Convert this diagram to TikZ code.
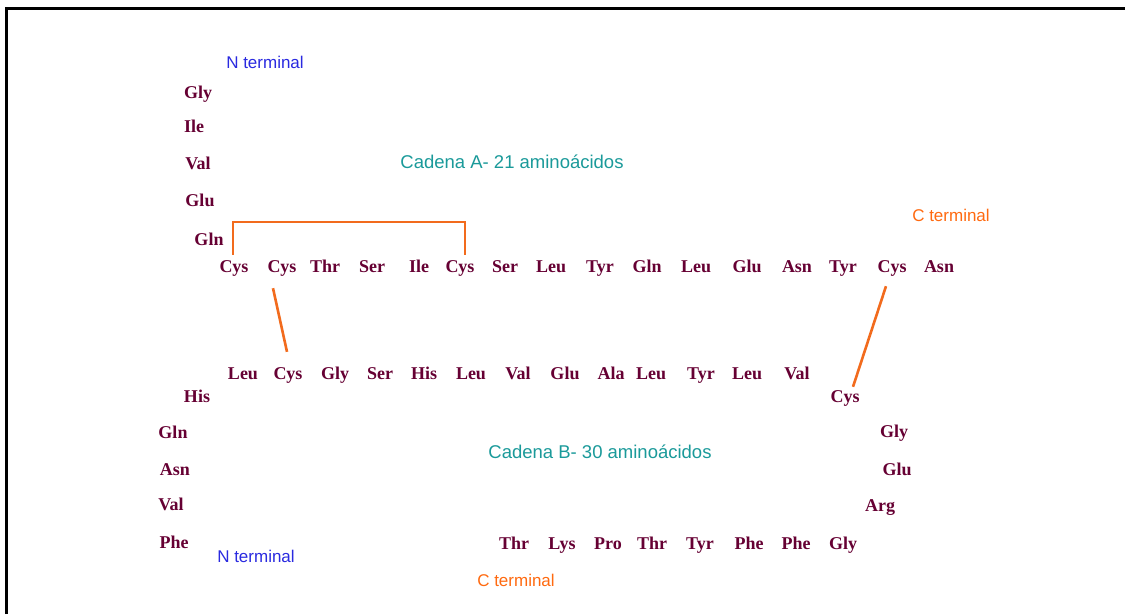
\documentclass[tikz,border=0pt]{standalone}
\usepackage{fontspec}
\setmainfont{Liberation Serif}
\newfontfamily\labelfont{Liberation Sans}
\usetikzlibrary{calc}
\definecolor{residue}{HTML}{660033}
\definecolor{chainname}{HTML}{1A9A9A}
\definecolor{nterm}{HTML}{2A2AE0}
\definecolor{cterm}{HTML}{FF6A10}
\definecolor{bondcol}{HTML}{F26B1D}
\begin{document}
\begin{tikzpicture}[x=1pt,y=-1pt,
  aa/.style={text=residue,font=\fontsize{18}{18}\selectfont\bfseries,inner sep=1pt,
    text height=12pt,text depth=4pt,anchor=center},
  chainlbl/.style={text=chainname,font=\labelfont\fontsize{18.5}{18.5}\selectfont,inner sep=0pt},
  nlbl/.style={text=nterm,font=\labelfont\fontsize{17}{17}\selectfont,inner sep=0pt},
  clbl/.style={text=cterm,font=\labelfont\fontsize{17}{17}\selectfont,inner sep=0pt},
  bond/.style={draw=bondcol,line width=2.6pt},
  frameline/.style={draw=black,line width=3pt}]
\useasboundingbox (0,0) rectangle (1125,614);
\fill[white] (0,0) rectangle (1125,614);
% open frame: top and left edges only
\draw[frameline] (6.5,614) -- (6.5,8) -- (1125,8);

% ---- chain A ----
\node[aa] (A1)  at (198,94)  {Gly};
\node[aa] (A2)  at (194,128) {Ile};
\node[aa] (A3)  at (198,165) {Val};
\node[aa] (A4)  at (200,202) {Glu};
\node[aa] (A5)  at (209,241) {Gln};
\node[aa] (A6)  at (234,268) {Cys};
\node[aa] (A7)  at (282,268) {Cys};
\node[aa] (A8)  at (325,268) {Thr};
\node[aa] (A9)  at (372,268) {Ser};
\node[aa] (A10) at (419,268) {Ile};
\node[aa] (A11) at (460,268) {Cys};
\node[aa] (A12) at (505,268) {Ser};
\node[aa] (A13) at (551,268) {Leu};
\node[aa] (A14) at (600,268) {Tyr};
\node[aa] (A15) at (647,268) {Gln};
\node[aa] (A16) at (696,268) {Leu};
\node[aa] (A17) at (747,268) {Glu};
\node[aa] (A18) at (797,268) {Asn};
\node[aa] (A19) at (843,268) {Tyr};
\node[aa] (A20) at (892,268) {Cys};
\node[aa] (A21) at (939,268) {Asn};

% ---- chain B ----
\node[aa] (B1)  at (174,544) {Phe};
\node[aa] (B2)  at (171,506) {Val};
\node[aa] (B3)  at (175,471) {Asn};
\node[aa] (B4)  at (173,434) {Gln};
\node[aa] (B5)  at (197,398) {His};
\node[aa] (B6)  at (243,375) {Leu};
\node[aa] (B7)  at (288,375) {Cys};
\node[aa] (B8)  at (335,375) {Gly};
\node[aa] (B9)  at (380,375) {Ser};
\node[aa] (B10) at (424,375) {His};
\node[aa] (B11) at (471,375) {Leu};
\node[aa] (B12) at (518,375) {Val};
\node[aa] (B13) at (565,375) {Glu};
\node[aa] (B14) at (611,375) {Ala};
\node[aa] (B15) at (651,375) {Leu};
\node[aa] (B16) at (701,375) {Tyr};
\node[aa] (B17) at (747,375) {Leu};
\node[aa] (B18) at (797,375) {Val};
\node[aa] (B19) at (845,398) {Cys};
\node[aa] (B20) at (894,433) {Gly};
\node[aa] (B21) at (897,471) {Glu};
\node[aa] (B22) at (880,507) {Arg};
\node[aa] (B23) at (843,545) {Gly};
\node[aa] (B24) at (796,545) {Phe};
\node[aa] (B25) at (749,545) {Phe};
\node[aa] (B26) at (700,545) {Tyr};
\node[aa] (B27) at (652,545) {Thr};
\node[aa] (B28) at (608,545) {Pro};
\node[aa] (B29) at (562,545) {Lys};
\node[aa] (B30) at (514,545) {Thr};

% ---- labels ----
\node[nlbl]     (ntA)  at (265,62)  {N terminal};
\node[chainlbl] (chA)  at (512,162) {Cadena A- 21 aminoácidos};
\node[clbl]     (ctA)  at (951,215) {C terminal};
\node[chainlbl] (chB)  at (600,452) {Cadena B- 30 aminoácidos};
\node[nlbl]     (ntB)  at (256,556) {N terminal};
\node[clbl]     (ctB)  at (516,580) {C terminal};

% ---- disulfide bridges ----
\coordinate (ssTop) at (0,222);
\coordinate (ssL) at ($(A6.north)+(-1,-4)$);
\coordinate (ssR) at ($(A11.north)+(5,-4)$);
\draw[bond] (ssL) -- (ssL |- ssTop) -| (ssR);
\draw[bond] ($(A7.south)+(-9,11)$) -- ($(B7.north)+(-1,-14)$);
\draw[bond] ($(A20.south)+(-6,9)$) -- ($(B19.north)+(8,-2)$);
\end{tikzpicture}
\end{document}
